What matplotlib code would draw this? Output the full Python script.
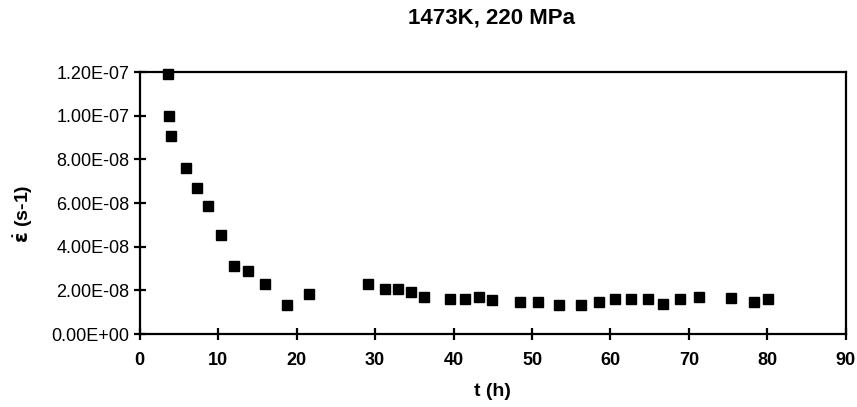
"""Creep strain rate vs time at 1473K, 220 MPa."""

import matplotlib

matplotlib.use("Agg")
import matplotlib.pyplot as plt
from matplotlib.ticker import FuncFormatter, MultipleLocator

plt.rcParams["font.family"] = ["Liberation Sans", "DejaVu Sans"]
plt.rcParams["mathtext.fontset"] = "custom"
plt.rcParams["mathtext.rm"] = "Liberation Sans:bold"
plt.rcParams["mathtext.it"] = "DejaVu Sans:bold"

time_h = [
    3.6, 3.75, 4.05, 5.85, 7.3, 8.65, 10.3, 12.0, 13.8, 16.0, 18.8, 21.6,
    29.1, 31.3, 32.9, 34.6, 36.2, 39.5, 41.4, 43.2, 44.9, 48.5, 50.8,
    53.4, 56.2, 58.6, 60.6, 62.6, 64.8, 66.7, 68.9, 71.3, 75.4, 78.3, 80.1,
]
strain_rate = [
    1.19e-7, 1.00e-7, 0.906e-7, 0.760e-7, 0.668e-7, 0.585e-7, 0.455e-7,
    0.311e-7, 0.290e-7, 0.231e-7, 0.133e-7, 0.183e-7,
    0.231e-7, 0.205e-7, 0.205e-7, 0.193e-7, 0.170e-7, 0.159e-7, 0.159e-7,
    0.170e-7, 0.156e-7, 0.147e-7, 0.147e-7, 0.134e-7, 0.134e-7, 0.147e-7,
    0.160e-7, 0.160e-7, 0.160e-7, 0.136e-7, 0.160e-7, 0.171e-7, 0.165e-7,
    0.147e-7, 0.160e-7,
]


def main() -> None:
    fig = plt.figure(figsize=(8.57, 4.07), dpi=100)
    ax = fig.add_axes([0.163, 0.179, 0.824, 0.644])

    ax.plot(time_h, strain_rate, linestyle="none", marker="s", markersize=6.5,
            color="black", clip_on=False)

    ax.set_xlim(0, 90)
    ax.set_ylim(0, 1.2e-7)
    ax.xaxis.set_major_locator(MultipleLocator(10))
    ax.yaxis.set_major_locator(MultipleLocator(2e-8))
    ax.yaxis.set_major_formatter(FuncFormatter(lambda v, _: f"{v:.2E}"))

    for spine in ax.spines.values():
        spine.set_linewidth(1.6)
    ax.tick_params(direction="inout", length=8, width=1.6, labelsize=13)
    ax.tick_params(axis="x", pad=9)
    for label in ax.get_xticklabels():
        label.set_fontweight("bold")
        label.set_fontsize(13)

    ax.set_xlabel("t (h)", fontsize=14, fontweight="bold", labelpad=10)
    ax.set_ylabel(r"$\dot{\varepsilon}$ (s-1)", fontsize=14, fontweight="bold",
                  labelpad=12, y=0.46)
    fig.text(0.574, 0.955, "1473K, 220 MPa", ha="center", va="center",
             fontsize=16, fontweight="bold")

    fig.savefig("out.png", dpi=100)
    plt.close(fig)


if __name__ == "__main__":
    main()
